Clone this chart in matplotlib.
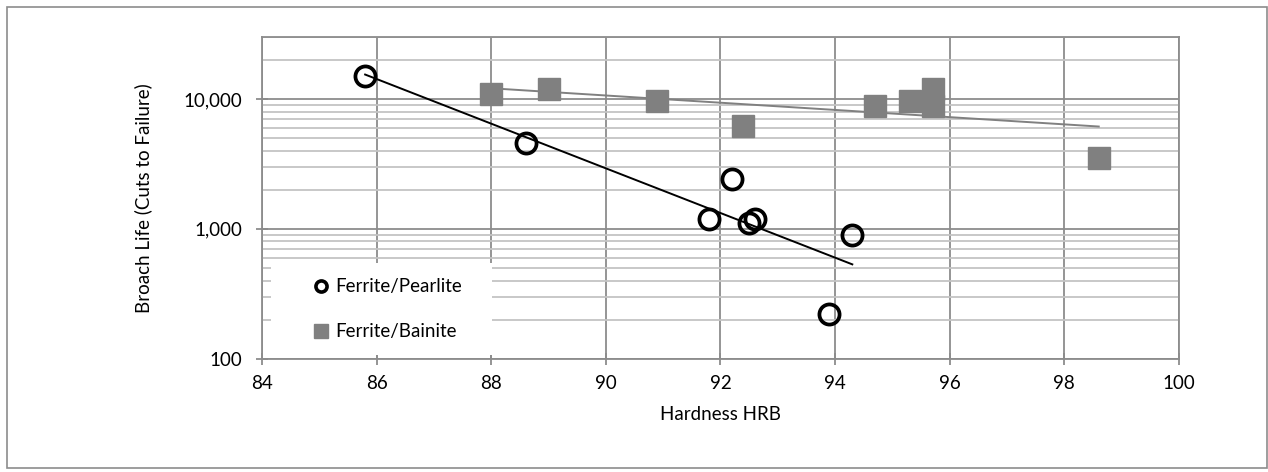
import numpy as np
import matplotlib
matplotlib.use("Agg")
import matplotlib.pyplot as plt
from matplotlib.lines import Line2D
from matplotlib.patches import Rectangle
from matplotlib.ticker import FixedLocator, FuncFormatter, NullFormatter

plt.rcParams['font.family'] = ['Lato', 'DejaVu Sans']

# Ferrite/Pearlite
fp_hrb = [85.8, 88.6, 92.2, 91.8, 92.5, 92.6, 94.3, 93.9]
fp_life = [15000, 4600, 2400, 1200, 1100, 1200, 900, 220]

# Ferrite/Bainite
fb_hrb = [88.0, 89.0, 90.9, 92.4, 94.7, 95.3, 95.7, 95.7, 98.6]
fb_life = [11000, 12000, 9600, 6200, 8800, 9700, 12000, 8900, 3500]

x_ticks = [84, 86, 88, 90, 92, 94, 96, 98, 100]
y_major = [100, 1000, 10000]

GRID = '#8c8c8c'
MINOR = '#c4c4c4'
FB_COLOR = '#808080'
FS = 13.5

fig = plt.figure(figsize=(12.68, 4.72), dpi=100)
ax = fig.add_axes([0.2066, 0.240, 0.7232, 0.6816])

# outer chart frame
fig.patches.append(Rectangle((7 / 1268, 4 / 472), 1260 / 1268, 461 / 472,
                             transform=fig.transFigure, fill=False,
                             edgecolor='#8c8c8c', lw=1.2))


def exp_trend(x, y):
    # excel style exponential trendline
    k, b = np.polyfit(x, np.log(y), 1)
    xs = np.linspace(min(x), max(x), 50)
    return xs, np.exp(b + k * xs)


ax.set_yscale('log')
ax.set_xlim(84, 100)
ax.set_ylim(100, 30000)

ax.plot(fb_hrb, fb_life, ls='none', marker='s', ms=16.5,
        color=FB_COLOR, zorder=3)
tx, ty = exp_trend(fb_hrb, fb_life)
ax.plot(tx, ty, color=FB_COLOR, lw=1.4, zorder=4)

ax.plot(fp_hrb, fp_life, ls='none', marker='o', ms=14.5, mew=2.7,
        mfc='none', mec='black', zorder=5)
tx, ty = exp_trend(fp_hrb, fp_life)
ax.plot(tx, ty, color='black', lw=1.4, zorder=6)

# grid
ax.set_axisbelow(True)
ax.xaxis.set_major_locator(FixedLocator(x_ticks))
ax.yaxis.set_major_locator(FixedLocator(y_major))
minors = [m * d for d in (100, 1000, 10000) for m in range(2, 10) if m * d <= 30000]
ax.yaxis.set_minor_locator(FixedLocator(minors))
ax.yaxis.set_minor_formatter(NullFormatter())
ax.yaxis.set_major_formatter(FuncFormatter(lambda v, p: f'{v:,.0f}'))
ax.grid(True, which='major', color=GRID, lw=1.3)
ax.grid(True, which='minor', axis='y', color=MINOR, lw=1.3)

for s in ax.spines.values():
    s.set_color(GRID)
    s.set_linewidth(1.3)

ax.tick_params(axis='both', which='major', direction='inout', length=8,
               width=1.3, color=GRID, labelsize=FS, labelcolor='black')
ax.tick_params(axis='y', which='major', pad=10)
ax.tick_params(axis='x', which='major', pad=8)
ax.tick_params(axis='y', which='minor', length=0)

ax.set_xlabel('Hardness HRB', fontsize=FS, labelpad=10)
ax.set_ylabel('Broach Life (Cuts to Failure)', fontsize=FS, labelpad=23)

# legend background
ax.add_patch(Rectangle((0.01, 0.012), 0.241, 0.285, transform=ax.transAxes,
                       facecolor='white', edgecolor='none', zorder=1))

handles = [
    Line2D([], [], ls='none', marker='o', ms=8, mew=2.6, mfc='none',
           mec='black', label='Ferrite/Pearlite'),
    Line2D([], [], ls='none', marker='s', ms=10, color=FB_COLOR,
           label='Ferrite/Bainite'),
]
leg = ax.legend(handles=handles, loc='center left',
                bbox_to_anchor=(0.0463, 0.1535), frameon=False,
                borderpad=0, handlelength=0.8, handletextpad=0.35,
                labelspacing=1.5, fontsize=FS)
leg.set_zorder(7)

fig.savefig('out.png', dpi=100)
